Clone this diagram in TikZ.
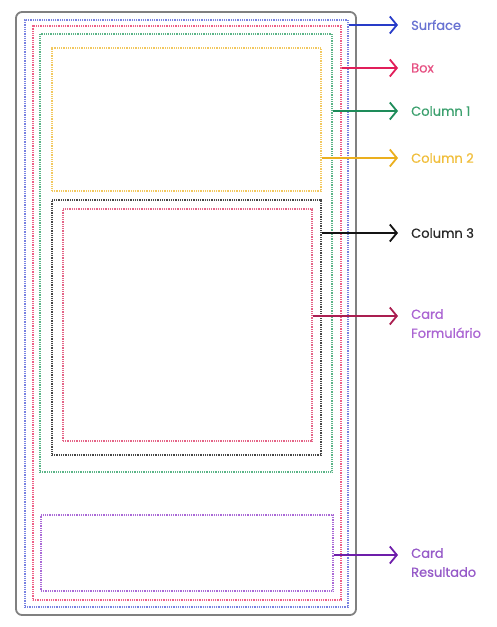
\documentclass[tikz,border=0pt]{standalone}
\usepackage{fontspec}
\setmainfont{Poppins}[FakeBold=0.7]
\usetikzlibrary{arrows.meta,positioning,fit}
\definecolor{surfaceline}{RGB}{120,130,225}
\definecolor{surfacearrow}{RGB}{40,60,200}
\definecolor{surfacetext}{RGB}{105,115,210}
\definecolor{boxline}{RGB}{238,95,135}
\definecolor{boxarrow}{RGB}{225,30,90}
\definecolor{boxtext}{RGB}{230,80,130}
\definecolor{colaline}{RGB}{90,180,135}
\definecolor{colaarrow}{RGB}{30,140,90}
\definecolor{colatext}{RGB}{60,160,110}
\definecolor{colbline}{RGB}{242,200,95}
\definecolor{colbarrow}{RGB}{235,175,30}
\definecolor{colbtext}{RGB}{240,190,60}
\definecolor{colcline}{RGB}{70,70,70}
\definecolor{colcarrow}{RGB}{20,20,20}
\definecolor{colctext}{RGB}{40,40,40}
\definecolor{formline}{RGB}{228,100,135}
\definecolor{formarrow}{RGB}{170,30,80}
\definecolor{formtext}{RGB}{170,100,210}
\definecolor{resline}{RGB}{170,105,215}
\definecolor{resarrow}{RGB}{110,30,170}
\definecolor{restext}{RGB}{150,90,200}
\begin{document}
\begin{tikzpicture}[x=1pt,y=-1pt,
    area/.style={draw=#1, line width=1.4pt, dash pattern=on 0.9pt off 0.9pt, inner sep=0pt},
    pointer/.style={draw=#1, line width=1.8pt, -{Straight Barb[length=7pt,width=17pt,line width=1.8pt]}},
    lbl/.style={text=#1, font=\fontsize{13}{19}\selectfont, inner sep=0pt, align=left}]
  \useasboundingbox (0,0) rectangle (496,627);
  % frame
  \node[draw=gray, line width=1.8pt, rounded corners=6pt, inner sep=0pt, fit={(16,12) (356,615)}] (frame) {};
  % dotted areas with absolute coordinates
  \node[area=surfaceline, fit={(25,20) (348,607)}] (surface) {};
  \node[area=boxline, fit={(33,26) (341,600)}] (box) {};
  \node[area=colaline, fit={(40,34) (332,472)}] (cola) {};
  \node[area=colbline, fit={(52,48) (321,191)}] (colb) {};
  \node[area=colcline, fit={(52,200) (321,455)}] (colc) {};
  \node[area=formline, fit={(63,209) (312,441)}] (form) {};
  \node[area=resline, fit={(41,515) (333,591)}] (res) {};
  % arrow tips
  \coordinate (surfacetip) at (398,25);
  \coordinate (boxtip) at (398,68);
  \coordinate (colatip) at (398,111);
  \coordinate (colbtip) at (398,158);
  \coordinate (colctip) at (398,233);
  \coordinate (formtip) at (398,316);
  \coordinate (restip) at (398,555);
  % labels
  \node[lbl=surfacetext, right=13pt of surfacetip] (surfacetxt) {Surface};
  \node[lbl=boxtext, right=13pt of boxtip] (boxtxt) {Box};
  \node[lbl=colatext, right=13pt of colatip] (colatxt) {Column 1};
  \node[lbl=colbtext, right=13pt of colbtip] (colbtxt) {Column 2};
  \node[lbl=colctext, right=13pt of colctip] (colctxt) {Column 3};
  \node[lbl=formtext, right=13pt of formtip, anchor=north west, yshift=7pt] (formtxt) {Card\\Formulário};
  \node[lbl=restext, right=13pt of restip, anchor=north west, yshift=7pt] (restxt) {Card\\Resultado};
  % pointers
  \draw[pointer=surfacearrow] (surface.east |- surfacetip) -- (surfacetip);
  \draw[pointer=boxarrow] (box.east |- boxtip) -- (boxtip);
  \draw[pointer=colaarrow] (cola.east |- colatip) -- (colatip);
  \draw[pointer=colbarrow] (colb.east |- colbtip) -- (colbtip);
  \draw[pointer=colcarrow] (colc.east |- colctip) -- (colctip);
  \draw[pointer=formarrow] (form.east |- formtip) -- (formtip);
  \draw[pointer=resarrow] (res.east |- restip) -- (restip);
\end{tikzpicture}
\end{document}
